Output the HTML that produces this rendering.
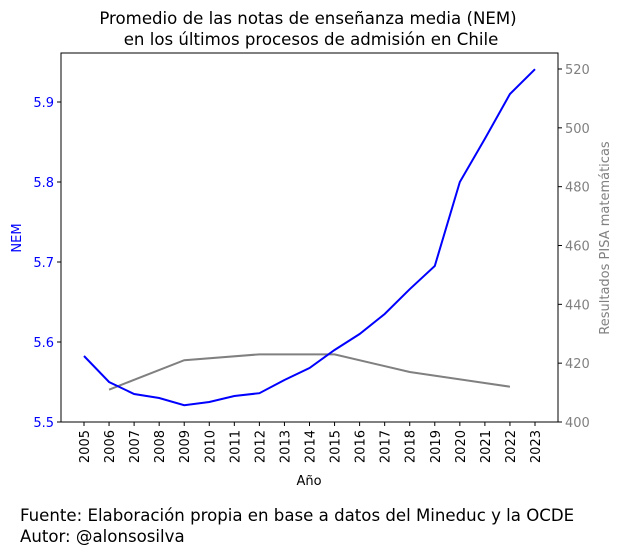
<!DOCTYPE html>
<html><head><meta charset="utf-8"><style>
body{margin:0;background:#fff;font-family:"DejaVu Sans","Liberation Sans",sans-serif}
</style></head><body>
<svg id="c" width="622" height="555" font-family="DejaVu Sans, Liberation Sans, sans-serif"></svg>
<script>
const years=[2005,2006,2007,2008,2009,2010,2011,2012,2013,2014,2015,2016,2017,2018,2019,2020,2021,2022,2023];
const nem=[5.5825,5.55,5.535,5.53,5.521,5.525,5.5325,5.536,5.5525,5.5675,5.59,5.61,5.635,5.666,5.695,5.80,5.854,5.91,5.941];
const pisaYears=[2006,2009,2012,2015,2018,2022];
const pisa=[411,421,423,423,417,412];
const leftTicks=[5.5,5.6,5.7,5.8,5.9];
const rightTicks=[400,420,440,460,480,500,520];
const L=61,R=558,T=53,B=422;
const x=v=>84+(v-2005)*(535-84)/18;
const yl=v=>422-(v-5.5)*800;
const yr=v=>422-(v-400)*(353/120);
const s=document.getElementById('c');const NS='http://www.w3.org/2000/svg';
function mk(t,a,txt){const e=document.createElementNS(NS,t);for(const k in a)e.setAttribute(k,a[k]);if(txt!=null)e.textContent=txt;s.appendChild(e);return e;}
let e;
e=mk('text',{x:308,y:24,'text-anchor':'middle','font-size':16.6},'Promedio de las notas de enseñanza media (NEM)');

e=mk('text',{x:311,y:45,'text-anchor':'middle','font-size':16.6},'en los últimos procesos de admisión en Chile');

e=mk('rect',{x:L,y:T,width:R-L,height:B-T,fill:'none',stroke:'#000','stroke-width':1});

leftTicks.forEach(v=>{const y=yl(v);
e=mk('line',{x1:L-4,x2:L,y1:y,y2:y,stroke:'#000'});
e=mk('text',{x:L-7,y:y+5,'text-anchor':'end','font-size':13,fill:'blue'},v.toFixed(1));});
rightTicks.forEach(v=>{const y=yr(v);
e=mk('line',{x1:R,x2:R+4,y1:y,y2:y,stroke:'#000'});
e=mk('text',{x:R+7,y:y+5,'font-size':13,fill:'gray'},v);});
years.forEach(v=>{const X=x(v);
e=mk('line',{x1:X,x2:X,y1:B,y2:B+4,stroke:'#000'});
e=mk('text',{x:X+5,y:B+8,'text-anchor':'end','font-size':13,transform:`rotate(-90 ${X+5} ${B+8})`},v);});
e=mk('text',{x:309,y:485,'text-anchor':'middle','font-size':13},'Año');
e=mk('text',{x:21,y:238,'text-anchor':'middle','font-size':13,fill:'blue',transform:'rotate(-90 21 238)'},'NEM');
e=mk('text',{x:609,y:238,'text-anchor':'middle','font-size':13,fill:'gray',transform:'rotate(-90 609 238)'},'Resultados PISA matemáticas');
e=mk('polyline',{points:pisaYears.map((v,i)=>x(v)+','+yr(pisa[i])).join(' '),fill:'none',stroke:'gray','stroke-width':2});

e=mk('polyline',{points:years.map((v,i)=>x(v)+','+yl(nem[i])).join(' '),fill:'none',stroke:'blue','stroke-width':2});

e=mk('text',{x:20,y:521,'font-size':16.6},'Fuente: Elaboración propia en base a datos del Mineduc y la OCDE');
e=mk('text',{x:20,y:542,'font-size':16.6},'Autor: @alonsosilva');
</script>
</body></html>
